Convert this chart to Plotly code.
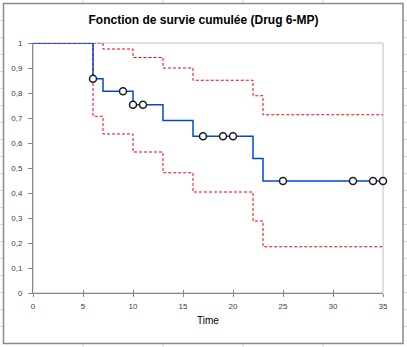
import plotly.graph_objects as go

# Kaplan-Meier estimate, Drug 6-MP
event_times = [0, 6, 7, 10, 13, 16, 22, 23, 35]
survival = [1.0, 0.857, 0.807, 0.753, 0.690, 0.627, 0.538, 0.448, 0.448]
upper_ci = [1.0, 1.0, 0.976, 0.942, 0.900, 0.851, 0.789, 0.713, 0.713]
lower_ci = [1.0, 0.707, 0.636, 0.564, 0.481, 0.404, 0.288, 0.185, 0.185]

censored_times = [6, 9, 10, 11, 17, 19, 20, 25, 32, 34, 35]
censored_surv = [0.857, 0.807, 0.753, 0.753, 0.627, 0.627, 0.627, 0.448, 0.448, 0.448, 0.448]

W, H = 407, 347
L, R, T, B = 33, 383, 43, 293  # plot area in pixels


def fx(px):
    return (px - L) / (R - L)


def fy(py):
    return (B - py) / (B - T)


fig = go.Figure()

fig.add_trace(go.Scatter(x=event_times, y=upper_ci, mode="lines", line_shape="hv",
                         line=dict(color="#FF0000", width=1, dash="3px,2px"),
                         cliponaxis=False, showlegend=False, hoverinfo="skip"))
fig.add_trace(go.Scatter(x=event_times, y=lower_ci, mode="lines", line_shape="hv",
                         line=dict(color="#FF0000", width=1, dash="3px,2px"),
                         cliponaxis=False, showlegend=False, hoverinfo="skip"))
fig.add_trace(go.Scatter(x=event_times, y=survival, mode="lines", line_shape="hv",
                         line=dict(color="#0046E0", width=1.5),
                         cliponaxis=False, showlegend=False))
fig.add_trace(go.Scatter(x=censored_times, y=censored_surv, mode="markers",
                         marker=dict(symbol="circle", size=7, color="white",
                                     line=dict(color="#1a1a1a", width=1.5)),
                         cliponaxis=False, showlegend=False))
# invisible trace for the overlay axis (inner half of cross ticks)
fig.add_trace(go.Scatter(x=[0], y=[0], xaxis="x2", mode="markers",
                         marker=dict(opacity=0), showlegend=False, hoverinfo="skip"))

grid_col = "#D9D9D9"
shapes = []
# plot-area border (light grey, top/right visible)
shapes.append(dict(type="rect", xref="paper", yref="paper", x0=0, x1=1, y0=0, y1=1,
                   line=dict(color="#BFBFBF", width=1), layer="below"))
# spreadsheet cell lines outside chart
for gx in [83, 163, 243, 323]:
    shapes.append(dict(type="line", xref="paper", yref="paper", x0=fx(gx), x1=fx(gx),
                       y0=fy(0), y1=fy(3.5), line=dict(color=grid_col, width=1)))
    shapes.append(dict(type="line", xref="paper", yref="paper", x0=fx(gx), x1=fx(gx),
                       y0=fy(343.5), y1=fy(347), line=dict(color=grid_col, width=1)))
for k in range(1, 20):
    gy = 3.5 + 17 * k
    shapes.append(dict(type="line", xref="paper", yref="paper", x0=fx(0), x1=fx(3.5),
                       y0=fy(gy), y1=fy(gy), line=dict(color=grid_col, width=1)))
    shapes.append(dict(type="line", xref="paper", yref="paper", x0=fx(403), x1=fx(407),
                       y0=fy(gy), y1=fy(gy), line=dict(color=grid_col, width=1)))
# chart-area border
shapes.append(dict(type="rect", xref="paper", yref="paper", x0=fx(3.5), x1=fx(403),
                   y0=fy(343.5), y1=fy(3.5), line=dict(color="#8A8A8A", width=1.5)))

tickfont = dict(family="Liberation Sans, Arial, sans-serif", size=8, color="#404040")

fig.update_layout(
    width=W, height=H,
    margin=dict(l=L, r=W - R, t=T, b=H - B, pad=0),
    paper_bgcolor="white", plot_bgcolor="white",
    separators=", ",
    title=dict(text="<b>Fonction de survie cumulée (Drug 6-MP)</b>",
               font=dict(family="Liberation Sans, Arial, sans-serif", size=12, color="black"),
               x=0.5, xanchor="center", xref="container",
               y=1 - 20 / H, yanchor="middle", yref="container"),
    xaxis=dict(range=[0, 35], dtick=5, tick0=0, showgrid=False, zeroline=False,
               showline=True, linecolor="#868686", linewidth=1,
               ticks="outside", ticklen=3, tickcolor="#868686", tickwidth=1,
               tickfont=tickfont, ticklabelstandoff=2,
               title=dict(text="Time", standoff=7,
                          font=dict(family="Liberation Sans, Arial, sans-serif", size=10, color="black"))),
    xaxis2=dict(range=[0, 35], dtick=5, tick0=0, overlaying="x", anchor="y", matches="x",
                showgrid=False, zeroline=False, showline=False, showticklabels=False,
                ticks="inside", ticklen=3, tickcolor="#868686", tickwidth=1),
    yaxis=dict(range=[0, 1], dtick=0.1, tick0=0, showgrid=False, zeroline=False,
               showline=True, linecolor="#868686", linewidth=1,
               ticks="outside", ticklen=4, tickcolor="#868686", tickwidth=1,
               tickfont=tickfont, ticklabelstandoff=4),
    shapes=shapes,
)

fig.write_html("out.html")
